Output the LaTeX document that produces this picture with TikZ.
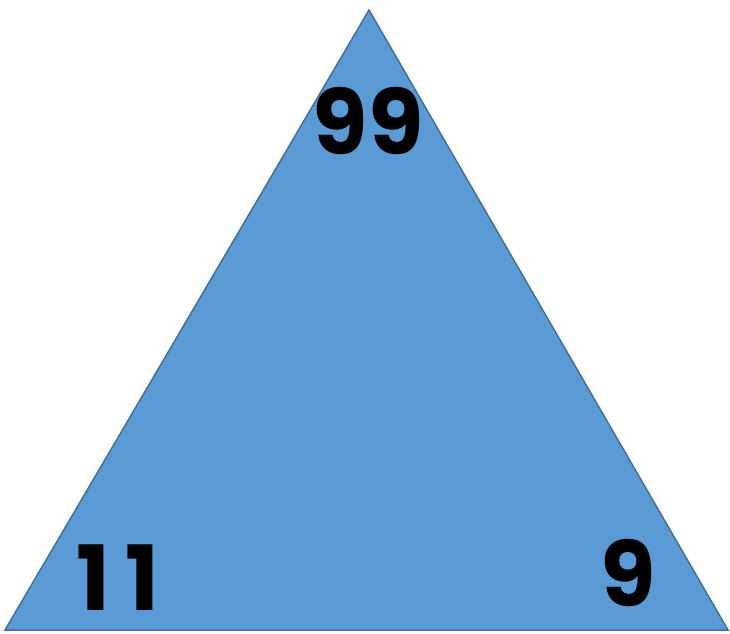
\documentclass[tikz,border=0pt]{standalone}
\usepackage{fontspec}
\setmainfont{Poppins}[BoldFont={* Bold}]
\definecolor{trifill}{HTML}{5B9BD5}
\definecolor{triedge}{HTML}{41719C}
\begin{document}
\begin{tikzpicture}[x=1pt,y=-1pt,
  numlabel/.style={font=\fontsize{90}{90}\selectfont\bfseries, text=black, inner sep=0pt, anchor=center}]
\useasboundingbox (0,0) rectangle (730,633);
\coordinate (apex) at (369,10);
\coordinate (bl) at (5,630);
\coordinate (br) at (728,630);
\draw[fill=trifill, draw=triedge, line width=1.5pt, line join=miter] (apex) -- (br) -- (bl) -- cycle;
\node[numlabel] (top) at (368,121) {99};
\node[numlabel] (left) at (118,578) {1\kern16pt 1};
\node[numlabel] (right) at (628,573) {9};
\end{tikzpicture}
\end{document}
